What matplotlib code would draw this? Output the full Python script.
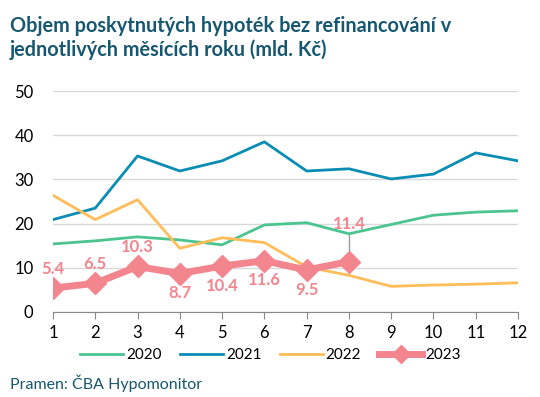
import matplotlib as mpl
mpl.use("Agg")
import matplotlib.pyplot as plt

plt.rcParams['font.family'] = ['Lato', 'DejaVu Sans']

months = list(range(1, 13))
v2020 = [15.4, 16.1, 17.0, 16.3, 15.2, 19.7, 20.2, 17.7, 19.8, 21.9, 22.6, 22.9]
v2021 = [20.9, 23.5, 35.3, 31.9, 34.2, 38.5, 31.9, 32.4, 30.1, 31.2, 36.0, 34.2]
v2022 = [26.4, 20.9, 25.4, 14.4, 16.8, 15.7, 10.2, 8.3, 5.8, 6.1, 6.3, 6.6]
v2023 = [5.4, 6.5, 10.3, 8.7, 10.4, 11.6, 9.5, 11.4]
labels2023 = ["5.4", "6.5", "10.3", "8.7", "10.4", "11.6", "9.5", "11.4"]

c2020 = "#4cc490"
c2021 = "#0a8db5"
c2022 = "#ffbd5a"
c2023 = "#f3858f"
teal = "#17576f"

fig = plt.figure(figsize=(5.4, 3.97), dpi=100)
ax = fig.add_axes([53/540, 1-312/397, 465/540, 221/397])

ax.plot(months, v2020, color=c2020, lw=2, label="2020")
ax.plot(months, v2021, color=c2021, lw=2, label="2021")
ax.plot(months, v2022, color=c2022, lw=2, label="2022")
ax.plot(months[:8], v2023, color=c2023, lw=5, marker="D", ms=11, label="2023")

# data labels
for i, (m, v, t) in enumerate(zip(months[:8], v2023, labels2023)):
    if i < 3:
        ax.text(m, v + 2.6, t, color=c2023, fontsize=12, fontweight="bold", ha="center", va="bottom")
    elif i < 7:
        ax.text(m, v - 2.6, t, color=c2023, fontsize=12, fontweight="bold", ha="center", va="top")
    else:
        ax.plot([m, m], [v, v + 6], color="#999999", lw=1, zorder=1)
        ax.text(m, v + 6.6, t, color=c2023, fontsize=12, fontweight="bold", ha="center", va="bottom")

ax.set_xlim(1, 12)
ax.set_ylim(0, 50)
ax.set_xticks(months)
ax.set_yticks([0, 10, 20, 30, 40, 50])
ax.grid(axis="y", color="#d9d9d9", lw=1)
ax.set_axisbelow(True)
for s in ["top", "right", "left"]:
    ax.spines[s].set_visible(False)
ax.spines["bottom"].set_color("#888888")
ax.tick_params(axis="y", length=0, labelsize=12, pad=14)
ax.tick_params(axis="x", length=5, color="#888888", labelsize=12, pad=4)

ax.legend(loc="upper center", bbox_to_anchor=(0.468, -0.1), ncol=4, frameon=False,
          fontsize=11, handlelength=2.8, handletextpad=0.2, columnspacing=1.2,
          markerscale=0.8)

fig.text(10/540, 1-38/397, "Objem poskytnutých hypoték bez refinancování v\njednotlivých měsících roku (mld. Kč)",
         color=teal, fontsize=14.3, fontweight="bold", va="center", linespacing=1.25)
fig.text(10/540, 1-383/397, "Pramen: ČBA Hypomonitor", color=teal, fontsize=11.5, va="center")

plt.savefig("out.png")
